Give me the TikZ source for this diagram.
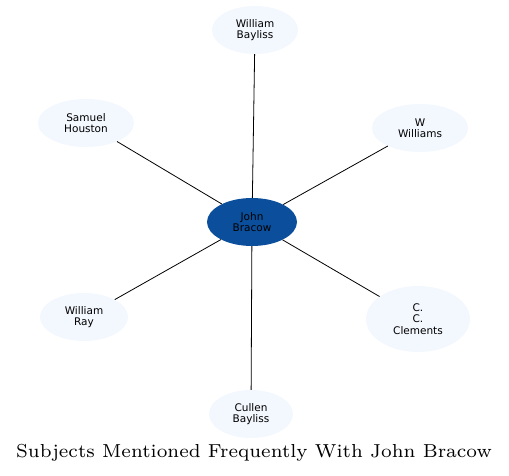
\documentclass[tikz,border=0pt]{standalone}
\usepackage{fontspec}
\newfontfamily\nodefont{DejaVu Sans}
\newfontfamily\titlefont{lmroman7-regular.otf}
\usetikzlibrary{shapes.geometric}
\definecolor{centerblue}{HTML}{0B4F9C}
\definecolor{paleblue}{HTML}{F3F7FE}
\begin{document}
\begin{tikzpicture}[x=1pt,y=-1pt,
  subj/.style={ellipse,fill=paleblue,draw=none,inner sep=0pt,
    font=\nodefont\fontsize{10.5}{11.5}\selectfont,align=center},
  hub/.style={subj,fill=centerblue},
  link/.style={draw=black,line width=0.8pt}]
\useasboundingbox (0,0) rectangle (509,476);
\node[hub,minimum width=90,minimum height=48] (jb) at (252,222) {John\\Bracow};
\node[subj,minimum width=86,minimum height=48] (wb) at (255,30) {William\\Bayliss};
\node[subj,minimum width=96,minimum height=48] (ww) at (420,128) {W\\Williams};
\node[subj,minimum width=96,minimum height=48] (sh) at (86,123) {Samuel\\Houston};
\node[subj,minimum width=88,minimum height=48] (wr) at (84,317) {William\\Ray};
\node[subj,minimum width=104,minimum height=66] (cc) at (418,319) {C.\\C.\\Clements};
\node[subj,minimum width=84,minimum height=48] (cb) at (251,414) {Cullen\\Bayliss};
\node[font=\titlefont\fontsize{18.8}{21}\selectfont] (title) at (254,453) {Subjects Mentioned Frequently With John Bracow};
\draw[link] (jb) -- (wb);
\draw[link] (jb) -- (ww);
\draw[link] (jb) -- (sh);
\draw[link] (jb) -- (wr);
\draw[link] (jb) -- (cc);
\draw[link] (jb) -- (cb);
\end{tikzpicture}
\end{document}
